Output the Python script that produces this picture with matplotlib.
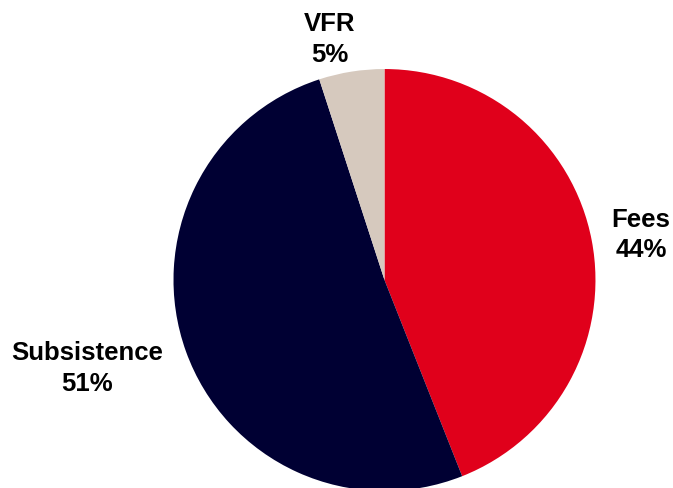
import matplotlib.pyplot as plt

plt.rcParams['font.family'] = ['Liberation Sans', 'DejaVu Sans']

# data
categories = ['Fees', 'Subsistence', 'VFR']
shares = [44, 51, 5]
colors = ['#E0001B', '#000033', '#D6C9BE']

fig = plt.figure(figsize=(6.73, 4.88), dpi=100)
# square box for the pie, centred where the reference puts it
ax = fig.add_axes([0.2578, -0.0062, 0.627, 0.8648])

ax.pie(shares, colors=colors, startangle=90, counterclock=False,
       wedgeprops=dict(linewidth=0))
ax.set_xlim(-1, 1)
ax.set_ylim(-1, 1)
ax.axis('off')

# label spots (data units, radius = 1)
label_xy = [(1.216, 0.213), (-1.41, -0.42), (-0.258, 1.14)]
for name, val, (x, y) in zip(categories, shares, label_xy):
    ax.text(x, y, '%s\n%d%%' % (name, val), ha='center', va='center',
            fontsize=18.5, fontweight='bold', linespacing=1.35, clip_on=False)

fig.savefig('out.png', dpi=100)
